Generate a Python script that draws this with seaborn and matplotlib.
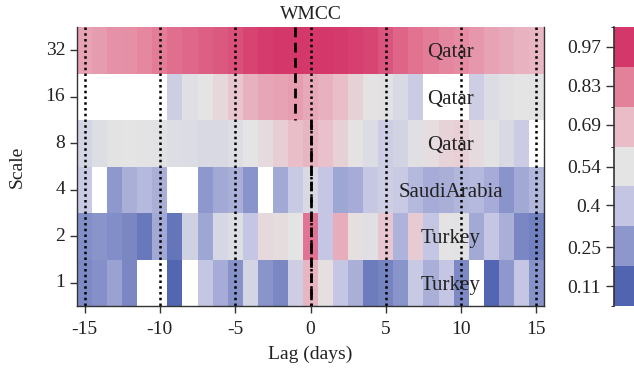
import numpy as np
import pandas as pd
import matplotlib
matplotlib.use("Agg")
import matplotlib.pyplot as plt
import seaborn as sns
from matplotlib.colors import LinearSegmentedColormap, ListedColormap, BoundaryNorm
from matplotlib.cm import ScalarMappable

nan = np.nan
lags = list(range(-15, 16))
scales = ["32", "16", "8", "4", "2", "1"]
countries = ["Qatar", "Qatar", "Qatar", "SaudiArabia", "Turkey", "Turkey"]

row32 = [0.745, 0.76, 0.785, 0.79, 0.81, 0.835, 0.86, 0.875, 0.89, 0.905, 0.92, 0.945, 0.96, 0.97, 0.97,
         0.97, 0.97, 0.965, 0.955, 0.94, 0.91, 0.88, 0.855, 0.835, 0.815, 0.80, 0.775, 0.745, 0.725, 0.705, 0.695]
row16 = [nan, nan, nan, nan, nan, nan, 0.44, 0.52, 0.54, 0.585, 0.645, 0.71, 0.735, 0.745, 0.756,
         0.73, 0.71, 0.675, 0.61, 0.55, 0.53, 0.49, 0.43, nan, nan, nan, 0.44, 0.50, 0.53, 0.54, 0.545]
row8 = [0.47, 0.51, 0.535, 0.54, 0.535, 0.53, 0.51, 0.50, 0.49, 0.49, 0.51, 0.54, 0.575, 0.62, 0.675,
        0.70, 0.67, 0.61, 0.55, 0.50, 0.44, 0.46, 0.52, 0.565, 0.605, 0.615, 0.575, 0.53, 0.49, 0.43, nan]
row4 = [0.42, nan, 0.255, 0.33, 0.36, 0.33, nan, nan, 0.255, 0.31, 0.33, 0.245, nan, 0.31, 0.42,
        0.49, 0.40, 0.30, 0.32, 0.41, 0.44, 0.42, 0.36, 0.32, 0.33, 0.35, 0.36, 0.32, 0.245, 0.31, 0.35]
row2 = [0.23, 0.245, 0.23, 0.21, 0.17, 0.31, 0.16, 0.45, 0.30, 0.48, 0.51, 0.40, 0.58, 0.57, 0.54,
        0.85, 0.40, 0.72, 0.56, 0.52, 0.645, 0.34, 0.63, 0.40, 0.55, 0.53, 0.31, 0.40, 0.33, 0.21, 0.19]
row1 = [0.215, 0.235, 0.29, 0.21, nan, nan, 0.12, nan, 0.40, 0.32, 0.24, 0.47, 0.245, 0.21, 0.44,
        0.70, 0.56, 0.40, 0.33, 0.18, 0.20, 0.245, 0.42, 0.33, 0.40, 0.215, nan, 0.12, 0.255, 0.40, 0.24]

cbar_ticks = [0.11, 0.25, 0.4, 0.54, 0.69, 0.83, 0.97]
cbar_labels = ["0.11", "0.25", "0.4", "0.54", "0.69", "0.83", "0.97"]
palette = ["#5064b0", "#8d97cc", "#c3c5e3", "#e4e4e4", "#e9bcc8", "#e4819a", "#d4386a"]
xtick_lags = [-15, -10, -5, 0, 5, 10, 15]
dotted_lags = [-15, -10, -5, 0, 5, 10, 15]

df = pd.DataFrame([row32, row16, row8, row4, row2, row1], index=scales, columns=lags)

plt.rcParams["font.family"] = ["Liberation Serif", "DejaVu Serif"]
txt = "#222222"

fig = plt.figure(figsize=(6.34, 3.72), dpi=100)
W, H = 634, 372
ax = fig.add_axes([77 / W, (H - 306) / H, 467 / W, 279 / H])
ax.set_facecolor("white")

cmap = LinearSegmentedColormap.from_list("wmcc", list(zip(np.linspace(0, 1, 7), palette)))
sns.heatmap(df, ax=ax, cmap=cmap, vmin=0.11, vmax=0.97, cbar=False)

for lg in dotted_lags:
    x = lags.index(lg) + 0.5
    ax.plot([x, x], [0, 6], color="black", lw=1.8, ls=(0, (1, 1.3)))
xm1 = lags.index(-1) + 0.5
x0 = lags.index(0) + 0.5
ax.plot([xm1, xm1], [0, 2], color="black", lw=2, ls=(0, (3.5, 2)))
ax.plot([x0, x0], [2, 6], color="black", lw=2, ls=(0, (3.5, 2)))

for r, name in enumerate(countries):
    ax.text(24.8, r + 0.55, name, ha="center", va="center", fontsize=15, color=txt)

ax.set_xticks([lags.index(v) + 0.5 for v in xtick_lags])
ax.set_xticklabels([str(v) for v in xtick_lags], rotation=0)
ax.set_yticks([i + 0.5 for i in range(len(scales))])
ax.set_yticklabels(scales, rotation=0)
ax.tick_params(axis="x", pad=6)
ax.tick_params(direction="out", length=5, width=1, labelsize=14, colors="#333333", labelcolor=txt)
ax.set_xlabel("Lag (days)", fontsize=14, color=txt, labelpad=5)
ax.set_ylabel("Scale", fontsize=14, color=txt, labelpad=14)
ax.set_title("WMCC", fontsize=14, color=txt, pad=6)
for side in ["left", "bottom", "right"]:
    ax.spines[side].set_visible(True)
    ax.spines[side].set_color("#333333")
    ax.spines[side].set_linewidth(1)
ax.spines["top"].set_visible(False)

cax = fig.add_axes([614 / W, (H - 306) / H, 0.05, 279 / H])
bounds = np.linspace(0.11 - 0.0717, 0.97 + 0.0717, 8)
dcmap = ListedColormap(palette)
norm = BoundaryNorm(bounds, dcmap.N)
cb = fig.colorbar(ScalarMappable(norm=norm, cmap=dcmap), cax=cax, ticks=cbar_ticks)
cb.outline.set_visible(False)
cax.yaxis.set_ticks_position("left")
cax.yaxis.set_label_position("left")
cax.set_yticklabels(cbar_labels)
cax.tick_params(direction="out", length=6, width=1, labelsize=14, colors="#333333", labelcolor=txt)
cax.plot([0, 0], [0, 1], transform=cax.transAxes, color="#333333", lw=1.2, clip_on=False)

fig.savefig("out.png", dpi=100)
